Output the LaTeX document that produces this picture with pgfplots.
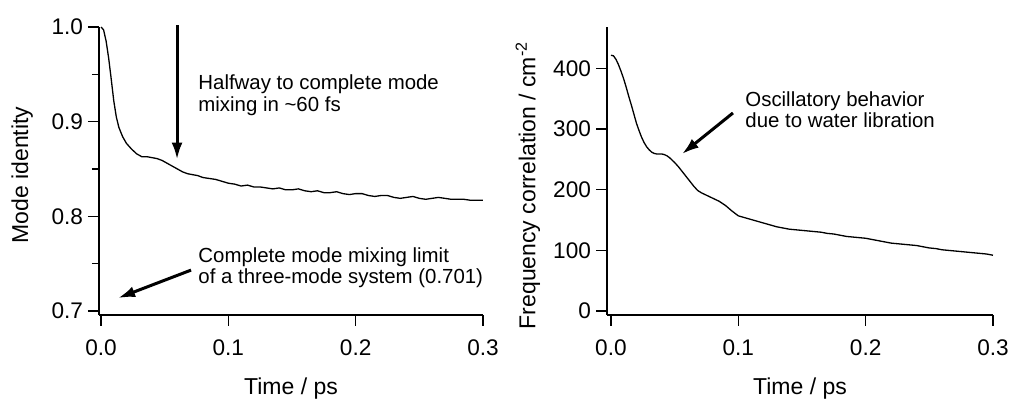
\documentclass[border=0pt]{standalone}
\usepackage{fontspec}
\setmainfont{Liberation Sans}
\usepackage{pgfplots}
\pgfplotsset{compat=1.18}
\usetikzlibrary{arrows.meta}
\begin{document}
\begin{tikzpicture}
\tikzset{
  ann/.style={font=\fontsize{10.2}{10.8}\selectfont, align=left, inner sep=0pt, anchor=north west},
  arr/.style={line width=1.5pt, -{Latex[length=8.5pt,width=5.5pt]}},
}
\pgfplotsset{
  every axis/.append style={
    scale only axis,
    axis lines*=left,
    axis line style={line width=0.7pt},
    tick align=outside,
    major tick length=5.5pt,
    minor tick length=3.5pt,
    every tick/.style={line width=0.7pt,black},
    tick label style={font=\fontsize{11.3}{12}\selectfont},
    label style={font=\fontsize{11.5}{12}\selectfont},
    /pgf/number format/assume math mode=true,
    clip=false,
    xtick={0,0.1,0.2,0.3},
    xticklabel style={yshift=-3.5pt,/pgf/number format/.cd,fixed,fixed zerofill,precision=1},
    yticklabel style={xshift=1pt},
  },
}
% Left panel
\begin{axis}[
  at={(49.5pt,42pt)}, anchor=south west,
  width=192pt, height=144pt,
  xmin=-0.0016, xmax=0.3,
  ymin=0.6958, ymax=1.0,
  ytick={0.7,0.8,0.9,1.0},
  minor ytick={0.75,0.85,0.95},
  yticklabel style={/pgf/number format/.cd,fixed,fixed zerofill,precision=1},
  xlabel={Time / ps},
  ylabel={Mode identity},
  xlabel style={at={(axis description cs:0.5,-0.255)}, anchor=center},
  ylabel style={at={(axis description cs:-0.20,0.486)}, anchor=center},
]
\addplot[black, line width=0.65pt] coordinates {
(0,1.000) (0.002,0.997) (0.004,0.985) (0.006,0.967) (0.008,0.945) (0.010,0.922)
(0.012,0.905) (0.014,0.894) (0.017,0.884) (0.020,0.877) (0.024,0.871) (0.028,0.866)
(0.032,0.863) (0.036,0.863) (0.040,0.862) (0.044,0.861) (0.048,0.859) (0.052,0.856)
(0.056,0.853) (0.060,0.850) (0.064,0.847) (0.068,0.845) (0.072,0.844) (0.076,0.843)
(0.080,0.841) (0.085,0.840) (0.090,0.839) (0.095,0.837) (0.100,0.835) (0.105,0.834)
(0.110,0.832) (0.115,0.833) (0.120,0.831) (0.125,0.831) (0.130,0.830) (0.135,0.829)
(0.140,0.830) (0.145,0.828) (0.150,0.828) (0.155,0.829) (0.160,0.827) (0.165,0.826)
(0.170,0.827) (0.175,0.825) (0.180,0.825) (0.185,0.826) (0.190,0.824) (0.195,0.823)
(0.200,0.824) (0.205,0.824) (0.210,0.822) (0.215,0.821) (0.220,0.822) (0.225,0.822)
(0.230,0.820) (0.235,0.819) (0.240,0.820) (0.245,0.821) (0.250,0.819) (0.255,0.818)
(0.260,0.819) (0.265,0.820) (0.270,0.819) (0.275,0.818) (0.280,0.818) (0.285,0.818)
(0.290,0.817) (0.295,0.817) (0.300,0.817)
};
\draw[arr] (axis cs:0.0597,1.002) -- (axis cs:0.0597,0.860);
\node[ann] at (axis cs:0.0762,0.9498) {Halfway to complete mode\\mixing in \char`\~60 fs};
\node[ann] at (axis cs:0.0762,0.7674) {Complete mode mixing limit\\of a three-mode system (0.701)};
\draw[arr] (axis cs:0.0707,0.7432) -- (axis cs:0.0134,0.7137);
\end{axis}
% Right panel
\begin{axis}[
  at={(303.5pt,42pt)}, anchor=south west,
  width=193pt, height=144pt,
  xmin=-0.0031, xmax=0.3,
  ymin=-6.6, ymax=468.6,
  ytick={0,100,200,300,400},
  xlabel={Time / ps},
  ylabel={Frequency correlation / cm\textsuperscript{-2}},
  xlabel style={at={(axis description cs:0.5,-0.255)}, anchor=center},
  ylabel style={at={(axis description cs:-0.205,0.45)}, anchor=center},
]
\addplot[black, line width=0.65pt] coordinates {
(0,422) (0.002,421) (0.004,415) (0.006,406) (0.008,395) (0.010,383) (0.012,369)
(0.014,354) (0.016,340) (0.018,325) (0.020,310) (0.022,298) (0.024,287) (0.026,278)
(0.028,271) (0.030,266) (0.032,262) (0.034,260) (0.036,259) (0.038,259) (0.040,259)
(0.042,258) (0.044,256) (0.046,253) (0.048,249) (0.050,245) (0.053,238) (0.056,230)
(0.059,222) (0.062,214) (0.065,206) (0.068,199) (0.071,195) (0.075,191) (0.080,186)
(0.085,181) (0.090,174) (0.095,165) (0.100,157) (0.105,154) (0.110,151) (0.115,148)
(0.120,145) (0.125,142) (0.130,139) (0.135,137) (0.140,135) (0.145,134) (0.150,133)
(0.155,132) (0.160,131) (0.165,130) (0.170,128) (0.175,127) (0.180,125) (0.185,123)
(0.190,122) (0.195,121) (0.200,120) (0.205,118) (0.210,116) (0.215,114) (0.220,112)
(0.225,111) (0.230,110) (0.235,109) (0.240,108) (0.245,106) (0.250,104) (0.255,103)
(0.260,101) (0.265,100) (0.270,99) (0.275,98) (0.280,97) (0.285,96) (0.290,95)
(0.295,94) (0.300,92)
};
\node[ann] at (axis cs:0.1053,363) {Oscillatory behavior\\due to water libration};
\draw[arr] (axis cs:0.0958,326.7) -- (axis cs:0.0558,259);
\end{axis}
\pgfresetboundingbox
\path (0,0) rectangle (504.5pt,199.5pt);
\end{tikzpicture}
\end{document}
